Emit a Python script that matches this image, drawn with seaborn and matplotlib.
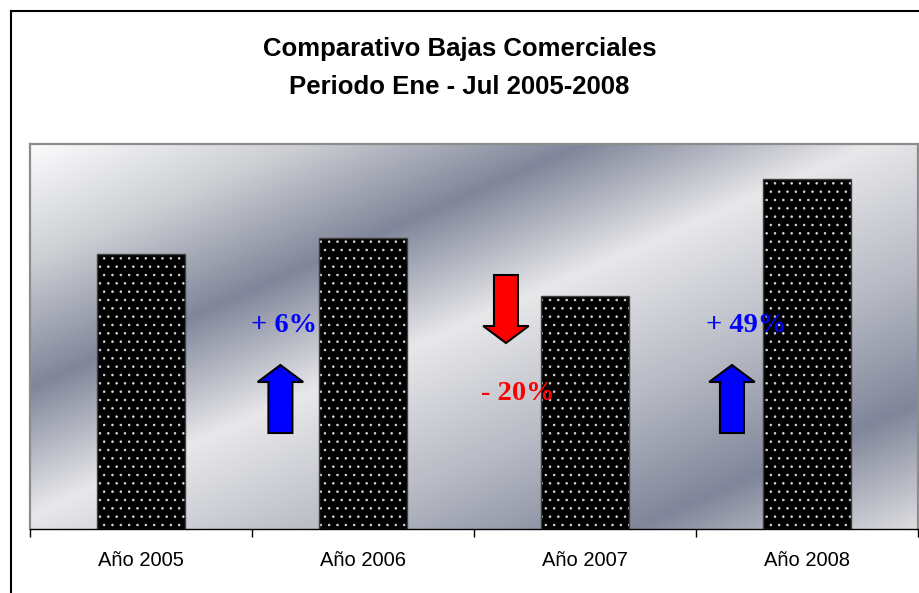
import matplotlib
matplotlib.use("Agg")
import matplotlib.pyplot as plt
import numpy as np
import pandas as pd
import seaborn as sns
from matplotlib.patches import FancyArrow
from matplotlib.lines import Line2D

# datos
anios = ["Año 2005", "Año 2006", "Año 2007", "Año 2008"]
bajas = [275, 291, 233, 350]
variaciones = ["+ 6%", "- 20%", "+ 49%"]
colores_var = ["#0000ff", "#ff0000", "#0000ff"]

df = pd.DataFrame({"anio": anios, "bajas": bajas})

plt.rcParams["font.family"] = ["Liberation Sans", "DejaVu Sans"]
plt.rcParams["hatch.linewidth"] = 0.6

fig = plt.figure(figsize=(9.19, 5.93), dpi=100)
ax = fig.add_axes([30 / 919, 1 - 529 / 593, 888 / 919, 385 / 593])

# fondo degradado plateado (diagonal)
W, H = 888, 385
xx, yy = np.meshgrid(np.arange(W), np.arange(H))
t = 0.44 * xx + yy
stops = [0, 120, 243, 370, 520, 650, 780]
cols = np.array([
    [252, 252, 253],
    [204, 206, 211],
    [128, 134, 154],
    [232, 232, 234],
    [182, 185, 195],
    [128, 134, 154],
    [226, 226, 228],
]) / 255.0
img = np.dstack([np.interp(t, stops, cols[:, k]) for k in range(3)])
ax.imshow(img, extent=[0, 1, 0, 1], transform=ax.transAxes,
          aspect="auto", zorder=0, interpolation="bilinear")

sns.barplot(data=df, x="anio", y="bajas", color="black", saturation=1,
            width=0.4, hatch="..", edgecolor="#d8d8d8", linewidth=0, ax=ax,
            zorder=2)
# contorno gris oscuro de las barras
sns.barplot(data=df, x="anio", y="bajas", fill=False, width=0.4,
            edgecolor="#404040", linewidth=1, ax=ax, zorder=2.5)

ax.set_xlim(-0.5, 3.5)
ax.set_ylim(0, 385)
ax.set_xlabel("")
ax.set_ylabel("")
ax.set_yticks([])
ax.set_xticks(range(4))
ax.set_xticklabels(anios, fontsize=14.5)
ax.tick_params(axis="x", which="major", length=0, pad=15.5)
ax.set_xticks([-0.5, 0.5, 1.5, 2.5, 3.5], minor=True)
ax.tick_params(axis="x", which="minor", length=6, width=1, color="black")

for s in ["top", "left", "right"]:
    ax.spines[s].set_color("#8c8c8c")
    ax.spines[s].set_linewidth(1.6)
ax.spines["bottom"].set_color("black")
ax.spines["bottom"].set_linewidth(1)

# flechas
flechas = [
    (0.628, 96, 68),
    (1.644, 254, -68),
    (2.662, 96, 68),
]
for (x, y0, dy), c in zip(flechas, colores_var):
    ax.add_patch(FancyArrow(x, y0, 0, dy, width=0.108, head_width=0.205,
                            head_length=17, length_includes_head=True,
                            facecolor=c, edgecolor="black", linewidth=1.5,
                            zorder=3))

# textos de variacion
pos_txt = [(0.645, 203), (1.698, 136), (2.725, 204)]
for (x, y), txt, c in zip(pos_txt, variaciones, colores_var):
    ax.text(x, y, txt, color=c, fontsize=20.5, fontweight="bold",
            family=["Liberation Serif", "DejaVu Serif"],
            ha="center", va="center", zorder=4)

fig.text(0.5, 1 - 49 / 593, "Comparativo Bajas Comerciales",
         ha="center", va="center", fontsize=18.5, fontweight="bold")
fig.text(0.5, 1 - 87 / 593, "Periodo Ene - Jul 2005-2008",
         ha="center", va="center", fontsize=18.5, fontweight="bold")

# borde del area del grafico
fig.add_artist(Line2D([11 / 919, 1], [1 - 11 / 593, 1 - 11 / 593],
                      color="black", linewidth=1.5))
fig.add_artist(Line2D([11 / 919, 11 / 919], [0, 1 - 11 / 593],
                      color="black", linewidth=1.5))

fig.savefig("out.png", dpi=100)
